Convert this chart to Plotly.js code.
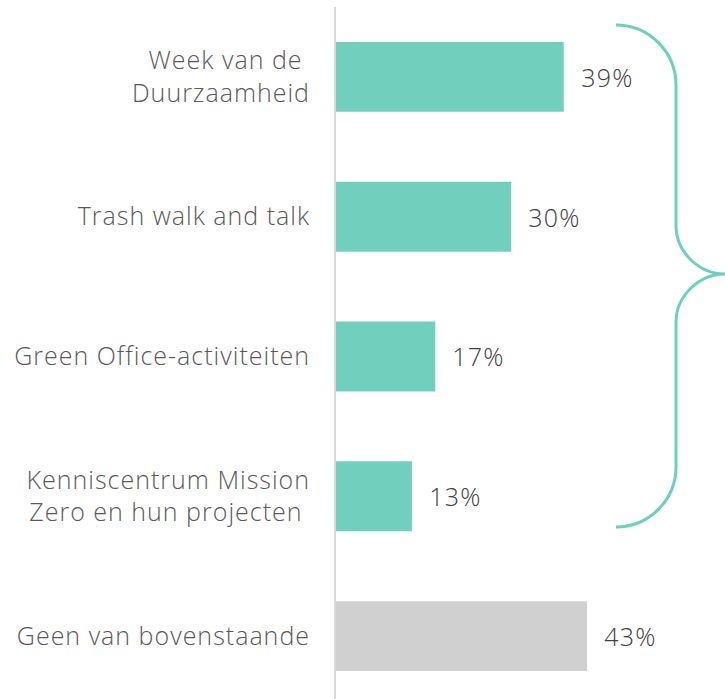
<!DOCTYPE html>
<html>
<head>
<meta charset="utf-8">
<script src="https://cdn.plot.ly/plotly-3.0.1.min.js"></script>
<style>
html,body{margin:0;padding:0;background:#fff;}
#chart{width:725px;height:699px;}
#chart .ytick text{letter-spacing:1px;}
#chart .annotation-text{letter-spacing:1.2px;}
</style>
</head>
<body>
<div id="chart"></div>
<script>
const categories = [
  "Week van de\u00a0<br>Duurzaamheid",
  "Trash walk and talk",
  "Green Office-activiteiten",
  "Kenniscentrum Mission<br>Zero en hun projecten\u00a0",
  "Geen van bovenstaande"
];
const values = [39, 30, 17, 13, 43];
const valueLabels = ["39%", "30%", "17%", "13%", "43%"];
const barColors = ["#70d0bd", "#70d0bd", "#70d0bd", "#70d0bd", "#d0d0d0"];

const W = 725, H = 699;
const mL = 336, mR = 0, mT = 7, mB = 0;
const plotW = W - mL - mR, plotH = H - mT - mB;
const pxPerUnit = 5.84;
const FONT = '"Open Sans", sans-serif';

// brace helper: convert pixel to paper coordinates
function px(x){ return ((x - mL) / plotW).toFixed(4); }
function py(y){ return ((H - mB - y) / plotH).toFixed(4); }
const bracePath =
  `M ${px(616)} ${py(25)} C ${px(649)} ${py(25)} ${px(676)} ${py(52)} ${px(676)} ${py(85)} ` +
  `L ${px(676)} ${py(226)} C ${px(676)} ${py(252)} ${px(699)} ${py(274)} ${px(725)} ${py(274)} ` +
  `C ${px(699)} ${py(274)} ${px(676)} ${py(296)} ${px(676)} ${py(322)} ` +
  `L ${px(676)} ${py(467)} C ${px(676)} ${py(500)} ${px(649)} ${py(527)} ${px(616)} ${py(527)}`;

const trace = {
  type: 'bar',
  orientation: 'h',
  y: categories,
  x: values,
  marker: {color: barColors},
  width: 0.5,
  hoverinfo: 'none'
};

const annotations = categories.map((c, i) => ({
  x: values[i], y: c, xref: 'x', yref: 'y',
  text: valueLabels[i], showarrow: false,
  xanchor: 'left', xshift: 17,
  font: {family: FONT, size: 25, color: '#404040', weight: 300}
}));

const layout = {
  width: W, height: H,
  margin: {l: mL, r: mR, t: mT, b: mB, pad: 0},
  paper_bgcolor: '#ffffff', plot_bgcolor: '#ffffff',
  showlegend: false,
  font: {family: FONT, size: 25, color: '#595959'},
  xaxis: {
    range: [0, plotW / pxPerUnit],
    showgrid: false, zeroline: false, showticklabels: false, showline: false, fixedrange: true
  },
  yaxis: {
    type: 'category',
    range: [4.45, -0.5],
    showgrid: false, zeroline: false,
    showline: true, linecolor: '#d9d9d9', linewidth: 2,
    ticks: '', ticklabelstandoff: 19,
    tickfont: {family: FONT, size: 25, color: '#595959', weight: 300},
    fixedrange: true
  },
  annotations: annotations,
  shapes: [{
    type: 'path', xref: 'paper', yref: 'paper',
    path: bracePath,
    line: {color: '#6fcfbc', width: 3},
    fillcolor: 'rgba(0,0,0,0)'
  }]
};

Plotly.newPlot('chart', [trace], layout, {displayModeBar: false, staticPlot: true});
</script>
</body>
</html>
